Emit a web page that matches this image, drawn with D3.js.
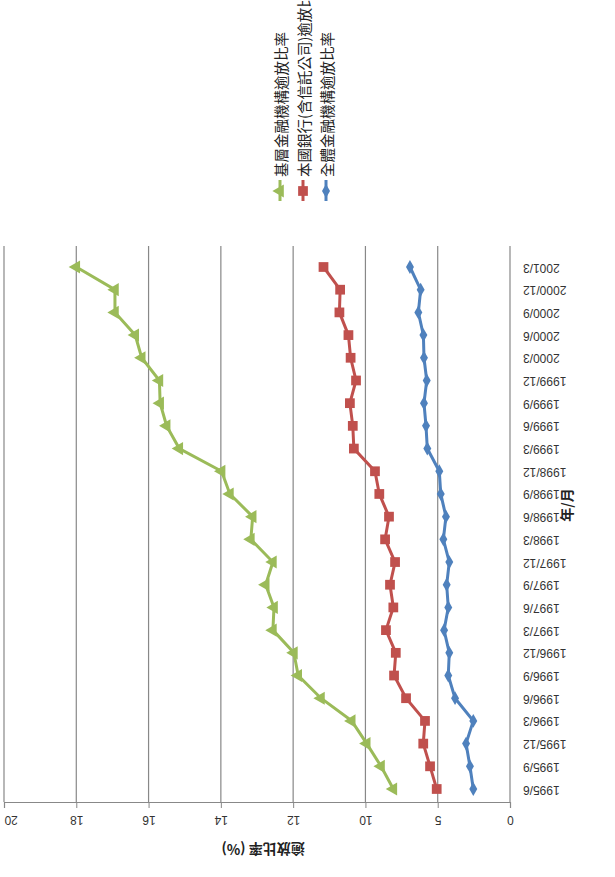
<!DOCTYPE html>
<html>
<head>
<meta charset="utf-8">
<script src="https://cdn.jsdelivr.net/npm/d3@7"></script>
<style>
  body { margin: 0; background: #fff; }
  svg { font-family: "Noto Sans CJK TC", "Liberation Sans", sans-serif; }
</style>
</head>
<body>
<svg id="chart" width="615" height="877"></svg>
<script>
// Data (quarterly, 1995/6 .. 2001/3)
const dates = ["1995/6", "1995/9", "1995/12", "1996/3", "1996/6", "1996/9", "1996/12",
    "1997/3", "1997/6", "1997/9", "1997/12", "1998/3", "1998/6", "1998/9", "1998/12",
    "1999/3", "1999/6", "1999/9", "1999/12", "2000/3", "2000/6", "2000/9", "2000/12", "2001/3"];

const allInst = [2.54, 2.77, 3.04, 2.54, 3.80, 4.27, 4.20, 4.56, 4.27, 4.38, 4.20, 4.61,
    4.43, 4.79, 4.89, 5.72, 5.81, 5.95, 5.76, 5.95, 5.99, 6.34, 6.18, 6.92];
const banks = [5.07, 5.53, 6.00, 5.88, 7.19, 8.02, 7.90, 8.58, 8.07, 8.30, 7.95, 8.64,
    8.37, 9.04, 9.34, 10.32, 10.35, 10.43, 10.26, 10.41, 10.47, 10.72, 10.70, 11.16];
const grassroots = [8.07, 8.92, 9.91, 10.38, 11.23, 11.86, 11.98, 12.56, 12.53, 12.76, 12.56, 13.17,
    13.12, 13.75, 13.98, 15.15, 15.50, 15.68, 15.70, 16.19, 16.37, 16.93, 16.93, 18.0];

// tick labels as printed on the value axis
const valueTicks = [0, 5, 10, 12, 14, 16, 18, 20];

const seriesNames = ["基層金融機構逾放比率", "本國銀行(含信託公司)逾放比率", "全體金融機構逾放比率"];

const svg = d3.select("#chart");

// the whole picture is turned: values run right-to-left, dates bottom-to-top
const plot = { left: 4, right: 510, top: 246, bottom: 802 };

// value axis has uneven steps, equally spaced on the page
const x = d3.scaleLinear()
    .domain(valueTicks)
    .range(valueTicks.map((d, i) => plot.right - i * (plot.right - plot.left) / (valueTicks.length - 1)));

const y = d3.scalePoint()
    .domain(dates)
    .range([789, 267]);

// gridlines
svg.append("g")
    .selectAll("line")
    .data(valueTicks)
    .join("line")
    .attr("x1", d => x(d))
    .attr("x2", d => x(d))
    .attr("y1", plot.top)
    .attr("y2", plot.bottom)
    .attr("stroke", "#888")
    .attr("stroke-width", 1.2);

// value axis (bottom), labels upside down
const xAxis = svg.append("g")
    .attr("transform", `translate(0,${plot.bottom})`)
    .call(d3.axisBottom(x).tickValues(valueTicks).tickSize(6).tickFormat(d3.format("d")));
xAxis.select(".domain").attr("stroke", "#888").attr("stroke-width", 1.2);
xAxis.selectAll(".tick line").attr("stroke", "#888");
xAxis.selectAll(".tick text")
    .attr("y", 18)
    .attr("dy", null)
    .attr("transform", "rotate(180,0,18)")
    .attr("dominant-baseline", "central")
    .attr("fill", "#333")
    .style("font-size", "12px")
    .style("font-family", "Liberation Sans, sans-serif");
// the leftmost label sits at the page edge
xAxis.selectAll(".tick text").filter(d => d === 20).attr("text-anchor", "end");

// date axis (right), labels upside down
const yAxis = svg.append("g")
    .attr("transform", `translate(${plot.right},0)`)
    .call(d3.axisRight(y).tickSize(0));
yAxis.select(".domain").remove();
yAxis.selectAll(".tick text")
    .attr("x", 13)
    .attr("dy", null)
    .attr("text-anchor", "end")
    .attr("dominant-baseline", "central")
    .attr("transform", "rotate(180,13,0)")
    .attr("fill", "#333")
    .style("font-size", "12px")
    .style("font-family", "Liberation Sans, sans-serif");

// axis titles
svg.append("text")
    .attr("transform", "translate(263,850) rotate(180)")
    .attr("text-anchor", "middle")
    .attr("dominant-baseline", "central")
    .style("font-size", "14px")
    .style("font-weight", "bold")
    .attr("fill", "#222")
    .text("逾放比率 (%)");

svg.append("text")
    .attr("transform", "translate(566,505) rotate(-90)")
    .attr("text-anchor", "middle")
    .attr("dominant-baseline", "central")
    .style("font-size", "14px")
    .style("font-weight", "bold")
    .attr("fill", "#222")
    .text("年/月");

// series
const series = [
    { name: seriesNames[0], values: grassroots, color: "#9bbb59", symbol: d3.symbolTriangle, size: 75, rot: -90 },
    { name: seriesNames[1], values: banks, color: "#c0504d", symbol: d3.symbolSquare, size: 95, rot: 0 },
    { name: seriesNames[2], values: allInst, color: "#4f81bd", symbol: d3.symbolDiamond, size: 55, rot: 0 }
];

const line = d3.line()
    .x(d => x(d.v))
    .y(d => y(d.date));

series.forEach(s => {
    const pts = dates.map((date, i) => ({ date, v: s.values[i] }));
    svg.append("path")
        .datum(pts)
        .attr("d", line)
        .attr("fill", "none")
        .attr("stroke", s.color)
        .attr("stroke-width", 3);
    svg.append("g")
        .selectAll("path")
        .data(pts)
        .join("path")
        .attr("d", d3.symbol(s.symbol, s.size))
        .attr("transform", d => `translate(${x(d.v)},${y(d.date)}) rotate(${s.rot})`)
        .attr("fill", s.color);
});

// legend (vertical, reading bottom-to-top)
const legendX = d3.scalePoint().domain(seriesNames).range([280, 326]);
const legend = svg.append("g");
series.forEach(s => {
    const lx = legendX(s.name);
    legend.append("line")
        .attr("x1", lx).attr("x2", lx)
        .attr("y1", 180).attr("y2", 201)
        .attr("stroke", s.color)
        .attr("stroke-width", 3);
    legend.append("path")
        .attr("d", d3.symbol(s.symbol, s.size))
        .attr("transform", `translate(${lx},191) rotate(${s.rot})`)
        .attr("fill", s.color);
    legend.append("text")
        .attr("transform", `translate(${lx},177) rotate(-90)`)
        .attr("dominant-baseline", "central")
        .style("font-size", "14.5px")
        .attr("fill", "#222")
        .text(s.name);
});
</script>
</body>
</html>
